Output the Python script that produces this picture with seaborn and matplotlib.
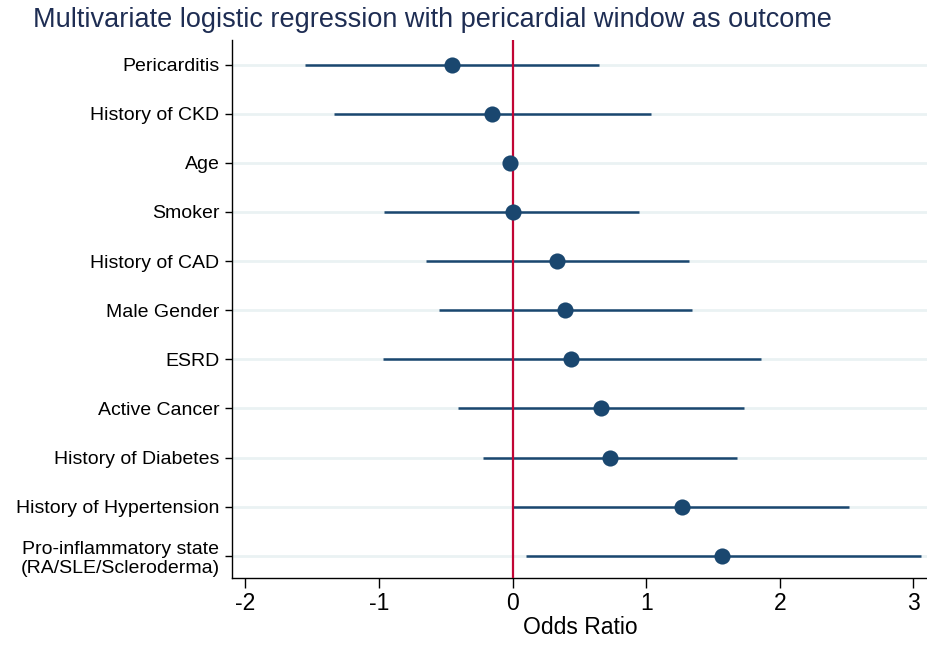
import numpy as np
import pandas as pd
import matplotlib
matplotlib.use("Agg")
import matplotlib.pyplot as plt
import seaborn as sns

# values (top to bottom)
labels = ["Pericarditis", "History of CKD", "Age", "Smoker", "History of CAD",
          "Male Gender", "ESRD", "Active Cancer", "History of Diabetes",
          "History of Hypertension", "Pro-inflammatory state\n(RA/SLE/Scleroderma)"]
estimate = [-0.45, -0.15, -0.02, 0.00, 0.33, 0.39, 0.44, 0.66, 0.73, 1.27, 1.57]
ci_low = [-1.55, -1.34, -0.03, -0.96, -0.65, -0.55, -0.97, -0.41, -0.22, 0.00, 0.10]
ci_high = [0.65, 1.04, -0.01, 0.95, 1.32, 1.34, 1.86, 1.73, 1.68, 2.52, 3.06]
xticks = [-2, -1, 0, 1, 2, 3]

df = pd.DataFrame({"label": labels, "est": estimate, "lo": ci_low, "hi": ci_high})
df["pos"] = np.arange(len(df))

sns.set_theme(style="white")
plt.rcParams["font.family"] = ["Liberation Sans", "DejaVu Sans"]
plt.rcParams["text.color"] = "black"
plt.rcParams["xtick.color"] = "black"
plt.rcParams["ytick.color"] = "black"
plt.rcParams["axes.labelcolor"] = "black"

navy = "#1a476f"
fig = plt.figure(figsize=(9.28, 6.45), dpi=100)
ax = fig.add_axes([0.25, 0.104, 0.75, 0.834])

for p in df["pos"]:
    ax.axhline(p, color="#eaf2f3", lw=2, zorder=0)

ax.hlines(df["pos"], df["lo"], df["hi"], color=navy, lw=1.8, zorder=2)
ax.axvline(0, color="#c10534", lw=1.6, zorder=3)
sns.scatterplot(data=df, x="est", y="pos", color=navy, s=135, edgecolor=navy,
                linewidth=0, zorder=4, ax=ax, legend=False)

ax.set_xlim(-2.1, 3.11)
ax.set_ylim(10.45, -0.5)
ax.set_yticks(df["pos"])
ax.set_yticklabels(df["label"], fontsize=14)
ax.set_xticks(xticks)
ax.set_xticklabels([str(t) for t in xticks], fontsize=16.5)
ax.set_xlabel("Odds Ratio", fontsize=16.5, labelpad=1)
ax.set_ylabel("")
ax.tick_params(axis="x", direction="out", length=7, width=1, color="black", pad=3)
ax.tick_params(axis="y", direction="out", length=5, width=1, color="black", pad=4)
ax.tick_params(axis="both", which="both", bottom=True, left=True)
for s in ["top", "right"]:
    ax.spines[s].set_visible(False)
for s in ["left", "bottom"]:
    ax.spines[s].set_color("black")
    ax.spines[s].set_linewidth(1)

fig.text(33 / 928, 1 - 20 / 645, "Multivariate logistic regression with pericardial window as outcome",
         fontsize=19.5, color="#1e2d53", ha="left", va="center")

fig.savefig("out.png", dpi=100, facecolor="white")
